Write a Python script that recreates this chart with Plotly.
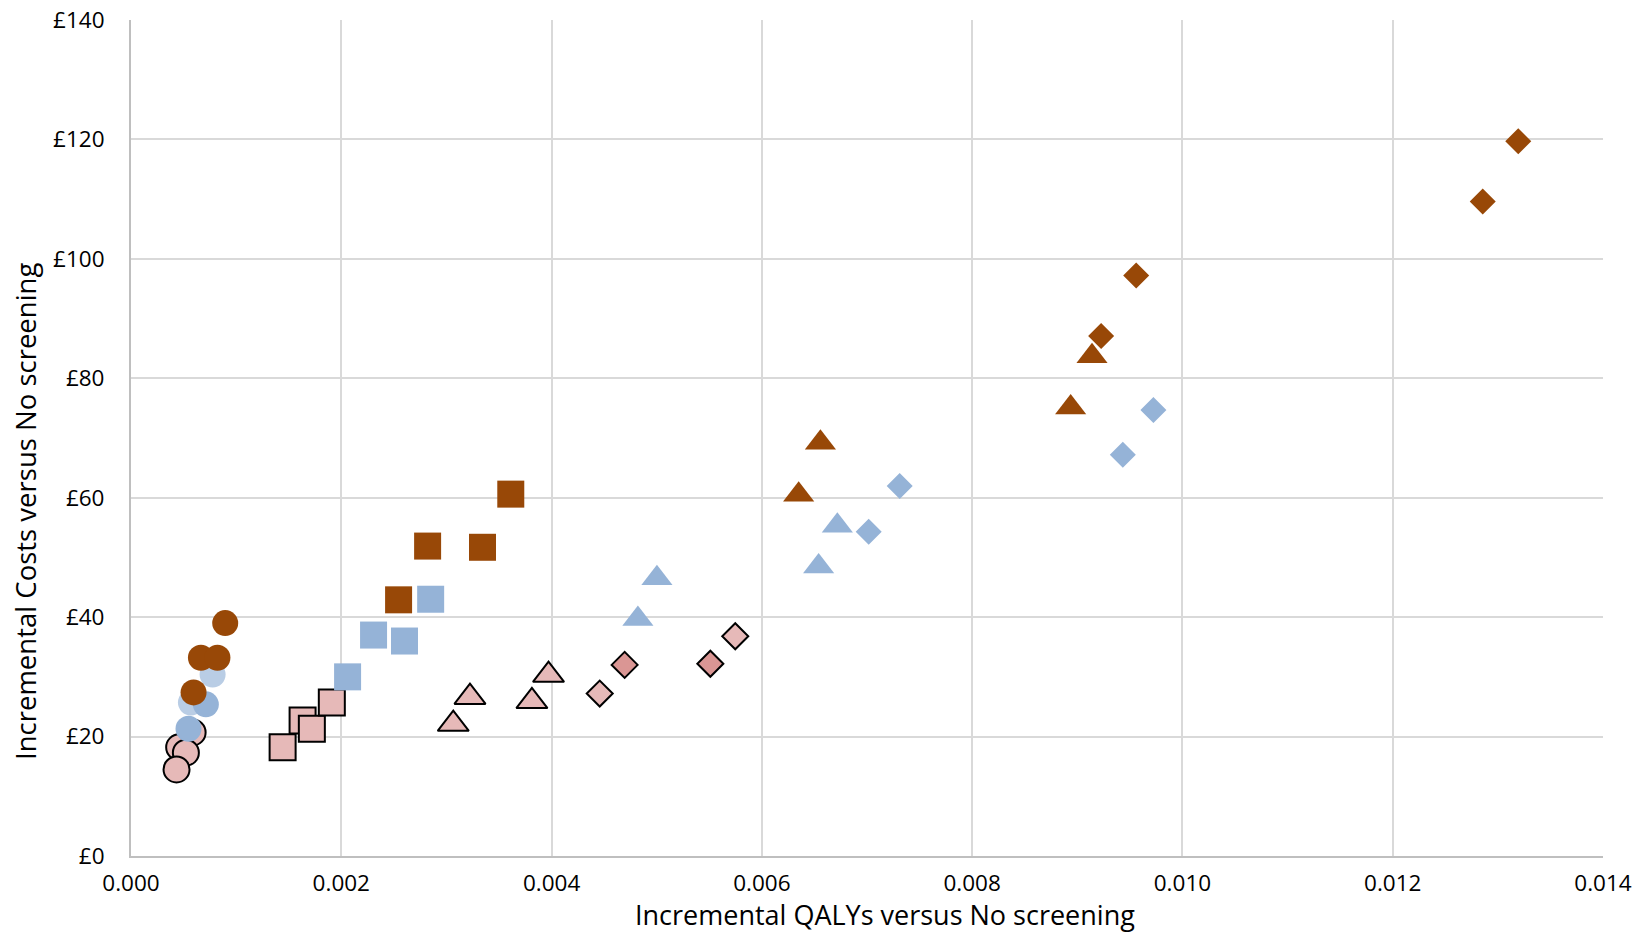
import plotly.graph_objects as go

# Incremental QALYs (x) and incremental costs in £ (y) per strategy group
circle_pink_x = [0.000586, 0.000458, 0.000522, 0.000433]
circle_pink_y = [20.7, 18.2, 17.3, 14.5]
circle_lightblue_x = [0.000776, 0.000570]
circle_lightblue_y = [30.4, 25.7]
circle_blue_x = [0.000712, 0.000547]
circle_blue_y = [25.4, 21.3]
circle_brown_x = [0.000896, 0.000665, 0.000822, 0.000595]
circle_brown_y = [39.0, 33.2, 33.2, 27.4]

square_pink_x = [0.001632, 0.001720, 0.001442, 0.001910]
square_pink_y = [22.7, 21.3, 18.2, 25.7]
square_blue_x = [0.002850, 0.002307, 0.002601, 0.002060]
square_blue_y = [43.0, 37.0, 36.0, 30.0]
square_brown_x = [0.002821, 0.003343, 0.002545, 0.003612]
square_brown_y = [51.9, 51.7, 42.9, 60.6]

triangle_pink_x = [0.003224, 0.003065, 0.003813, 0.003971]
triangle_pink_y = [26.6, 22.1, 25.9, 30.3]
triangle_blue_x = [0.005002, 0.004821, 0.006718, 0.006540]
triangle_blue_y = [46.5, 39.7, 55.3, 48.5]
triangle_brown_x = [0.006557, 0.006350, 0.009140, 0.008937]
triangle_brown_y = [69.2, 60.5, 83.7, 75.1]

diamond_pink_x = [0.004458, 0.005747]
diamond_pink_y = [27.2, 36.8]
diamond_rose_x = [0.004695, 0.005510]
diamond_rose_y = [32.0, 32.2]
diamond_blue_x = [0.007311, 0.007016, 0.009724, 0.009433]
diamond_blue_y = [61.95, 54.3, 74.7, 67.2]
diamond_brown_x = [0.009560, 0.009227, 0.013194, 0.012856]
diamond_brown_y = [97.2, 87.1, 119.7, 109.6]

x_ticks = [0.000, 0.002, 0.004, 0.006, 0.008, 0.010, 0.012, 0.014]
y_ticks = [0, 20, 40, 60, 80, 100, 120, 140]
y_tick_labels = ["£" + str(v) for v in y_ticks]

x_title = "Incremental QALYs versus No screening"
y_title = "Incremental Costs versus No screening"

BROWN = "#984807"
BLUE = "#95B3D7"
LIGHTBLUE = "#B9CDE5"
PINK = "#E6B9B8"
ROSE = "#DA9694"

FONT = "'Open Sans', sans-serif"

series = [
    (circle_pink_x, circle_pink_y, "circle", PINK, True, 26),
    (circle_lightblue_x, circle_lightblue_y, "circle", LIGHTBLUE, False, 26),
    (circle_blue_x, circle_blue_y, "circle", BLUE, False, 26),
    (circle_brown_x, circle_brown_y, "circle", BROWN, False, 26),
    (square_pink_x, square_pink_y, "square", PINK, True, 26),
    (square_blue_x, square_blue_y, "square", BLUE, False, 27),
    (square_brown_x, square_brown_y, "square", BROWN, False, 27),
    (triangle_pink_x, triangle_pink_y, "triangle-up", PINK, True, 27),
    (triangle_blue_x, triangle_blue_y, "triangle-up", BLUE, False, 27),
    (triangle_brown_x, triangle_brown_y, "triangle-up", BROWN, False, 27),
    (diamond_pink_x, diamond_pink_y, "diamond", PINK, True, 20),
    (diamond_rose_x, diamond_rose_y, "diamond", ROSE, True, 20),
    (diamond_blue_x, diamond_blue_y, "diamond", BLUE, False, 20),
    (diamond_brown_x, diamond_brown_y, "diamond", BROWN, False, 20),
]

fig = go.Figure()
for xs, ys, sym, col, outlined, size in series:
    fig.add_trace(go.Scatter(
        x=xs, y=ys, mode="markers",
        marker=dict(
            symbol=sym, size=size, color=col,
            line=dict(color="#000000" if outlined else col, width=2 if outlined else 0),
        ),
        showlegend=False, hoverinfo="x+y",
    ))

# plot area in pixels
W, H = 1640, 933
L, R, T, B = 131, 1603, 20, 856
pw, ph = R - L, B - T


def px_x(px):
    return (px - L) / pw


def px_y(py):
    return (B - py) / ph


fig.update_layout(
    width=W, height=H,
    margin=dict(l=L, r=W - R, t=T, b=H - B, autoexpand=False),
    paper_bgcolor="white", plot_bgcolor="white",
    font=dict(family=FONT, size=22.5, color="#000000"),
    xaxis=dict(
        range=[0, 0.014], tickvals=x_ticks, tickformat=".3f",
        showgrid=True, gridcolor="#D9D9D9", gridwidth=2,
        zeroline=False, showline=True, linecolor="#BFBFBF", linewidth=2,
        ticks="", ticklabelstandoff=6, automargin=False,
    ),
    yaxis=dict(
        range=[0, 140], tickvals=y_ticks, ticktext=y_tick_labels,
        showgrid=True, gridcolor="#D9D9D9", gridwidth=2,
        zeroline=False, showline=True, linecolor="#BFBFBF", linewidth=2,
        ticks="", ticklabelstandoff=20, automargin=False,
    ),
    annotations=[
        dict(text=x_title, xref="paper", yref="paper",
             x=px_x(885), y=px_y(914), xanchor="center", yanchor="middle",
             showarrow=False, borderpad=0, font=dict(size=27)),
        dict(text=y_title, xref="paper", yref="paper", textangle=-90,
             x=px_x(25), y=px_y(512), xanchor="center", yanchor="middle",
             showarrow=False, borderpad=0, font=dict(size=27.5)),
    ],
)

fig.write_html("out.html")
